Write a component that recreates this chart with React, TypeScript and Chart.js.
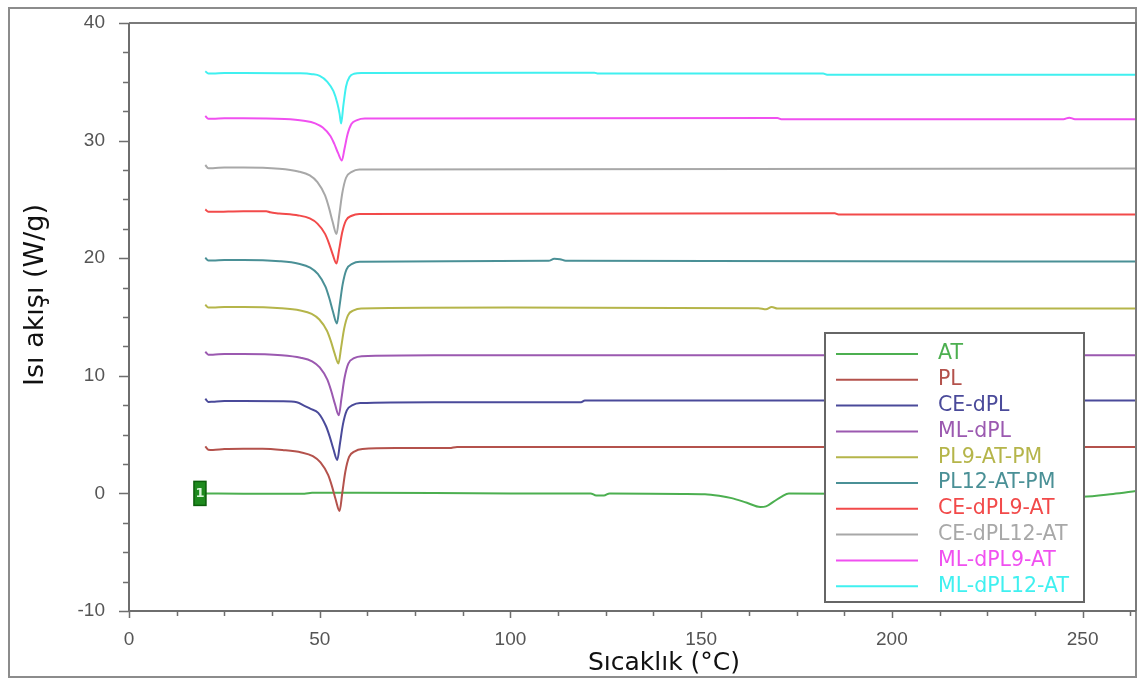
import React, { useEffect, useRef } from "react";
import { Chart, registerables } from "chart.js";

Chart.register(...registerables);

// ---------- Data ----------
const SERIES_NAMES = ["AT", "PL", "CE-dPL", "ML-dPL", "PL9-AT-PM", "PL12-AT-PM", "CE-dPL9-AT", "CE-dPL12-AT", "ML-dPL9-AT", "ML-dPL12-AT"];
const SERIES_COLORS = ["#4caf50", "#b4524c", "#4a4a9a", "#9b59b0", "#b5b54a", "#4a9096", "#f24a4a", "#a8a8a8", "#f050f0", "#40f0f0"];

const T_AT = [20, 30, 46, 48, 60, 100, 121, 122.5, 124.5, 126, 145, 151, 154.7, 158, 162, 165.5, 167, 169, 171, 173, 190, 230, 250, 258, 264];
const Y_AT = [0, -0.02, -0.02, 0.05, 0.05, 0, 0, -0.18, -0.18, 0, -0.05, -0.07, -0.2, -0.4, -0.8, -1.15, -1.1, -0.7, -0.3, 0, -0.05, -0.2, -0.28, -0.05, 0.2];

const T_PL = [20, 20.8, 22, 25, 30, 35, 40.2, 45.2, 48.2, 50.2, 52.2, 53.2, 54.2, 55.2, 55.9, 56.7, 57.7, 59.2, 61.2, 70, 84, 86, 150, 264];
const Y_PL = [4.0, 3.72, 3.7, 3.78, 3.8, 3.8, 3.69, 3.48, 3.16, 2.63, 1.57, 0.62, -0.54, -1.5, 0.0, 1.82, 3.1, 3.58, 3.77, 3.85, 3.85, 3.95, 3.95, 3.95];

const T_CEDPL = [20, 20.8, 22, 25, 30, 40, 44, 46, 47.5, 49.6, 51.6, 52.6, 53.6, 54.6, 55.3, 56.1, 57.1, 58.6, 60.6, 80, 118.5, 119.5, 264];
const Y_CEDPL = [8.05, 7.78, 7.8, 7.85, 7.85, 7.83, 7.75, 7.45, 7.2, 6.85, 5.75, 4.85, 3.75, 2.85, 4.22, 5.89, 7.06, 7.5, 7.68, 7.75, 7.75, 7.9, 7.9];

const T_MLDPL = [20, 20.8, 22, 25, 30, 40, 45, 48, 50, 52, 53, 54, 55, 55.7, 56.5, 57.5, 59, 61, 80, 264];
const Y_MLDPL = [12.05, 11.8, 11.8, 11.85, 11.85, 11.75, 11.54, 11.23, 10.71, 9.67, 8.73, 7.59, 6.65, 8.08, 9.81, 11.04, 11.5, 11.67, 11.75, 11.75];

const T_PL9 = [20, 20.8, 22, 25, 30, 39.9, 44.9, 47.9, 49.9, 51.9, 52.9, 53.9, 54.9, 55.6, 56.4, 57.4, 58.9, 60.9, 100, 165, 167, 168.5, 170, 172, 264];
const Y_PL9 = [16.05, 15.8, 15.8, 15.85, 15.85, 15.75, 15.56, 15.27, 14.79, 13.83, 12.97, 11.91, 11.05, 12.38, 14.0, 15.14, 15.56, 15.73, 15.8, 15.75, 15.65, 15.85, 15.72, 15.72, 15.72];

const T_PL12 = [20, 20.8, 22, 25, 30, 39.5, 44.5, 47.5, 49.5, 51.5, 52.5, 53.5, 54.5, 55.2, 56, 57, 58.5, 60.5, 110, 111.5, 113, 114.5, 264];
const Y_PL12 = [20.05, 19.8, 19.8, 19.85, 19.85, 19.74, 19.53, 19.2, 18.66, 17.58, 16.61, 15.42, 14.45, 15.94, 17.75, 19.03, 19.51, 19.7, 19.78, 19.95, 19.92, 19.78, 19.72];

const T_CEDPL9 = [20, 20.8, 22, 30, 36, 37, 39.4, 44.4, 47.4, 49.4, 51.4, 52.4, 53.4, 54.4, 55.1, 55.9, 56.9, 58.4, 60.4, 185, 186, 264];
const Y_CEDPL9 = [24.15, 23.95, 23.95, 24.0, 24.0, 23.9, 23.81, 23.64, 23.38, 22.94, 22.07, 21.29, 20.33, 19.55, 20.75, 22.2, 23.22, 23.61, 23.76, 23.82, 23.72, 23.72];

const T_CEDPL12 = [20, 20.8, 22, 25, 30, 39.4, 44.4, 47.4, 49.4, 51.4, 52.4, 53.4, 54.4, 55.1, 55.9, 56.9, 58.4, 60.4, 264];
const Y_CEDPL12 = [27.92, 27.65, 27.65, 27.72, 27.72, 27.61, 27.38, 27.04, 26.47, 25.34, 24.32, 23.07, 22.05, 23.61, 25.5, 26.84, 27.34, 27.54, 27.62];

const T_MLDPL9 = [20, 20.8, 22, 25, 30, 40.8, 45.8, 48.8, 50.8, 52.8, 53.8, 54.8, 55.8, 56.5, 57.3, 58.3, 59.8, 61.8, 170, 171, 245, 246.5, 248, 264];
const Y_MLDPL9 = [32.1, 31.85, 31.85, 31.9, 31.9, 31.83, 31.68, 31.47, 31.11, 30.39, 29.74, 28.95, 28.3, 29.31, 30.54, 31.41, 31.74, 31.87, 31.92, 31.82, 31.82, 31.95, 31.82, 31.82];

const T_MLDPL12 = [20, 20.8, 22, 25, 30, 45, 48, 50, 52, 53.6, 54.6, 55.2, 55.6, 56.2, 56.9, 57.8, 59, 61, 122, 123, 182, 183, 264];
const Y_MLDPL12 = [35.9, 35.7, 35.7, 35.75, 35.75, 35.72, 35.65, 35.5, 35.0, 34.2, 33.2, 32.3, 31.45, 33.0, 34.6, 35.4, 35.68, 35.74, 35.78, 35.7, 35.7, 35.6, 35.6];

const SERIES_T = [T_AT, T_PL, T_CEDPL, T_MLDPL, T_PL9, T_PL12, T_CEDPL9, T_CEDPL12, T_MLDPL9, T_MLDPL12];
const SERIES_Y = [Y_AT, Y_PL, Y_CEDPL, Y_MLDPL, Y_PL9, Y_PL12, Y_CEDPL9, Y_CEDPL12, Y_MLDPL9, Y_MLDPL12];

const X_MIN = 0;
const X_MAX = 264;
const X_STEP = 12.5;
const X_LABEL_EVERY = 50;
const Y_MIN = -10;
const Y_MAX = 40;
const Y_STEP = 2.5;
const Y_LABEL_EVERY = 10;
const X_TITLE = "Sıcaklık (°C)";
const Y_TITLE = "Isı akışı (W/g)";
const MARKER_X = 18.6;
const MARKER_Y = 0;
const MARKER_TEXT = "1";

// ---------- Decoration plugin ----------
const decorPlugin = {
  id: "decor",
  beforeDraw(chart: any) {
    const ctx = chart.ctx;
    ctx.save();
    ctx.fillStyle = "#ffffff";
    ctx.fillRect(0, 0, chart.width, chart.height);
    ctx.restore();
  },
  afterDatasetsDraw(chart: any) {
    const ctx = chart.ctx;
    const { left, right, top, bottom } = chart.chartArea;
    const xs = chart.scales.x;
    const ys = chart.scales.y;
    ctx.save();

    // outer frame
    ctx.strokeStyle = "#8c8c8c";
    ctx.lineWidth = 2;
    ctx.strokeRect(9, 8, 1127, 669);

    // plot box (top & right)
    ctx.strokeStyle = "#7a7a7a";
    ctx.lineWidth = 2;
    ctx.beginPath();
    ctx.moveTo(left, top);
    ctx.lineTo(right, top);
    ctx.lineTo(right, bottom);
    ctx.stroke();

    // axes
    ctx.strokeStyle = "#6e6e6e";
    ctx.lineWidth = 2;
    ctx.beginPath();
    ctx.moveTo(left, top);
    ctx.lineTo(left, bottom + 1);
    ctx.moveTo(left - 1, bottom);
    ctx.lineTo(right, bottom);
    ctx.stroke();

    // ticks
    ctx.lineWidth = 1.5;
    ctx.strokeStyle = "#6e6e6e";
    ctx.beginPath();
    ys.ticks.forEach((t: any) => {
      const py = Math.round(ys.getPixelForValue(t.value)) + 0.5;
      const major = Math.abs(t.value % Y_LABEL_EVERY) < 1e-6;
      const len = major ? 10 : 6;
      ctx.moveTo(left - len, py);
      ctx.lineTo(left, py);
    });
    xs.ticks.forEach((t: any) => {
      const px = Math.round(xs.getPixelForValue(t.value)) + 0.5;
      const major = Math.abs(t.value % X_LABEL_EVERY) < 1e-6;
      const len = major ? 7 : 5;
      ctx.moveTo(px, bottom);
      ctx.lineTo(px, bottom + len);
    });
    ctx.stroke();

    // axis titles
    ctx.fillStyle = "#111111";
    ctx.font = "25px 'DejaVu Sans'";
    ctx.textAlign = "center";
    ctx.textBaseline = "middle";
    ctx.fillText(X_TITLE, 664, 663);
    ctx.save();
    ctx.translate(36, 295);
    ctx.rotate(-Math.PI / 2);
    ctx.font = "27px 'DejaVu Sans'";
    ctx.fillText(Y_TITLE, 0, 0);
    ctx.restore();

    // marker "1"
    const mx = xs.getPixelForValue(MARKER_X);
    const my = ys.getPixelForValue(MARKER_Y);
    ctx.strokeStyle = SERIES_COLORS[0];
    ctx.lineWidth = 2;
    ctx.beginPath();
    ctx.moveTo(mx + 6, my);
    ctx.lineTo(xs.getPixelForValue(T_AT[0]), my);
    ctx.stroke();
    ctx.fillStyle = "#1e8a1e";
    ctx.fillRect(mx - 6, my - 12, 12, 24);
    ctx.strokeStyle = "#0b5e0b";
    ctx.lineWidth = 1.5;
    ctx.strokeRect(mx - 6, my - 12, 12, 24);
    ctx.fillStyle = "#d8f5d8";
    ctx.font = "bold 13px 'DejaVu Sans'";
    ctx.textAlign = "center";
    ctx.textBaseline = "middle";
    ctx.fillText(MARKER_TEXT, mx, my);

    // legend box
    const lx = 825, ly = 333, lw = 259, lh = 269;
    ctx.fillStyle = "#ffffff";
    ctx.fillRect(lx, ly, lw, lh);
    ctx.strokeStyle = "#666666";
    ctx.lineWidth = 2;
    ctx.strokeRect(lx, ly, lw, lh);
    ctx.font = "20.5px 'DejaVu Sans'";
    ctx.textAlign = "left";
    ctx.textBaseline = "middle";
    SERIES_NAMES.forEach((name, i) => {
      const ry = 354 + i * 25.8;
      ctx.strokeStyle = SERIES_COLORS[i];
      ctx.lineWidth = 2;
      ctx.beginPath();
      ctx.moveTo(836, ry);
      ctx.lineTo(918, ry);
      ctx.stroke();
      ctx.fillStyle = SERIES_COLORS[i];
      ctx.fillText(name, 938, ry);
    });

    ctx.restore();
  },
};

export default function App() {
  const ref = useRef<HTMLCanvasElement | null>(null);

  useEffect(() => {
    if (!ref.current) return;
    const datasets = SERIES_NAMES.map((name, i) => ({
      label: name,
      data: SERIES_T[i].map((t, j) => ({ x: t, y: SERIES_Y[i][j] })),
      borderColor: SERIES_COLORS[i],
      backgroundColor: SERIES_COLORS[i],
      borderWidth: 2,
      pointRadius: 0,
      fill: false,
      cubicInterpolationMode: "monotone" as const,
      order: i === 0 ? 1 : 0,
    }));

    const chart = new Chart(ref.current, {
      type: "line",
      data: { datasets },
      options: {
        animation: false,
        responsive: false,
        maintainAspectRatio: false,
        layout: { padding: { top: 23, right: 3, left: 0, bottom: 0 } },
        plugins: { legend: { display: false }, tooltip: { enabled: false } },
        scales: {
          x: {
            type: "linear",
            min: X_MIN,
            max: X_MAX,
            grid: { display: false },
            border: { display: false },
            afterFit: (scale: any) => {
              scale.height = 68;
              scale.paddingLeft = 0;
              scale.paddingRight = 0;
            },
            ticks: {
              stepSize: X_STEP,
              autoSkip: false,
              includeBounds: false,
              maxRotation: 0,
              padding: 9,
              color: "#555555",
              font: { family: "'Liberation Sans'", size: 19 },
              callback: (v: any) => (Math.abs(Number(v) % X_LABEL_EVERY) < 1e-6 ? String(v) : ""),
            },
          },
          y: {
            type: "linear",
            min: Y_MIN,
            max: Y_MAX,
            grid: { display: false },
            border: { display: false },
            afterFit: (scale: any) => {
              scale.width = 129;
              scale.paddingTop = 0;
              scale.paddingBottom = 0;
            },
            ticks: {
              stepSize: Y_STEP,
              autoSkip: false,
              padding: 16,
              color: "#555555",
              font: { family: "'Liberation Sans'", size: 19 },
              callback: (v: any) => (Math.abs(Number(v) % Y_LABEL_EVERY) < 1e-6 ? String(v) : ""),
            },
          },
        },
      },
      plugins: [decorPlugin],
    });
    return () => chart.destroy();
  }, []);

  return (
    <div style={{ position: "fixed", left: 0, top: 0, width: 1139, height: 679, background: "#fff" }}>
      <canvas ref={ref} width={1139} height={679} style={{ display: "block" }} />
    </div>
  );
}
